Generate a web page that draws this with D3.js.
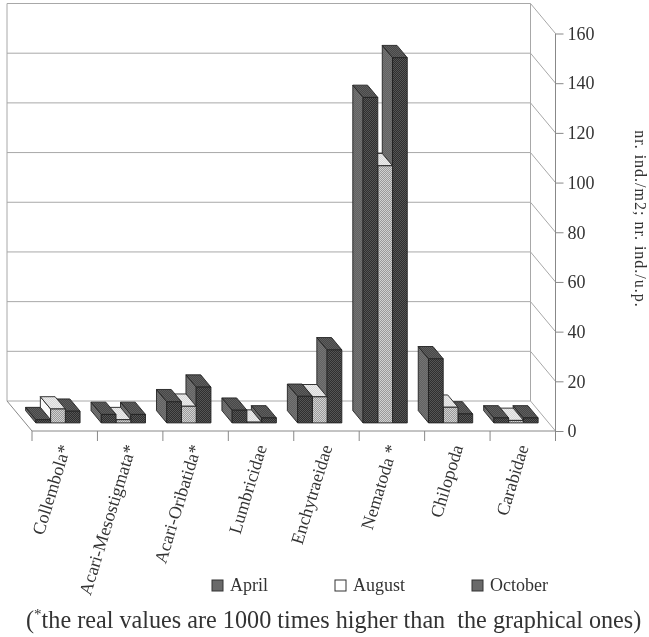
<!DOCTYPE html>
<html>
<head>
<meta charset="utf-8">
<script src="https://cdn.jsdelivr.net/npm/d3@7"></script>
<style>
  html, body { margin: 0; padding: 0; background: #fff; }
  svg { filter: blur(0.45px); }
  text { font-family: "Liberation Serif", serif; fill: #333; }
</style>
</head>
<body>
<div id="chart"></div>
<script>
// values
const categories = ["Collembola*", "Acari-Mesostigmata*", "Acari-Oribatida*", "Lumbricidae", "Enchytraeidae", "Nematoda *", "Chilopoda", "Carabidae"];
const months = ["April", "August", "October"];
const april = [1.3, 3.4, 8.5, 5.1, 10.7, 131, 25.8, 2];
const august = [5.6, 1.3, 6.7, 0.3, 10.5, 103.5, 6.3, 1];
const october = [4.7, 3.4, 14.4, 2, 29.4, 147, 3.6, 2];
const yTicks = [0, 20, 40, 60, 80, 100, 120, 140, 160];

const seriesValues = { April: april, August: august, October: october };

const width = 649, height = 637;
const depthX = -25, depthY = -30;      // floor depth, front edge to back wall
const barFront = 0.27, barBack = 0.68; // where the bars sit on the floor

const svg = d3.select("#chart").append("svg")
    .attr("width", width)
    .attr("height", height)
    .style("display", "block");

const x = d3.scaleBand().domain(categories).range([32, 555.5]);
const xInner = d3.scaleBand().domain(months).range([0, x.bandwidth()]).paddingOuter(0.72);
const y = d3.scaleLinear().domain([0, 160]).range([431, 33.5]);

// stippled fills, the print has dithered faces
const defs = svg.append("defs");
function stipple(id, a, b) {
    const p = defs.append("pattern").attr("id", id)
        .attr("width", 2).attr("height", 2)
        .attr("patternUnits", "userSpaceOnUse");
    p.append("rect").attr("width", 2).attr("height", 2).attr("fill", a);
    p.append("rect").attr("width", 1).attr("height", 1).attr("fill", b);
    p.append("rect").attr("x", 1).attr("y", 1).attr("width", 1).attr("height", 1).attr("fill", b);
}
stipple("darkFront", "#2f2f2f", "#555");
stipple("darkTop", "#484848", "#5e5e5e");
stipple("darkSide", "#626262", "#747474");
stipple("lightFront", "#9a9a9a", "#d2d2d2");
stipple("lightTop", "#d8d8d8", "#ececec");

const faces = {
    April: { front: "url(#darkFront)", top: "url(#darkTop)", side: "url(#darkSide)" },
    August: { front: "url(#lightFront)", top: "url(#lightTop)", side: "#fafafa" },
    October: { front: "url(#darkFront)", top: "url(#darkTop)", side: "url(#darkSide)" }
};

// screen point for an x, a value and a floor depth (0 front, 1 back)
const pt = (px, v, d) => [px + d * depthX, y(v) + d * depthY];
const line = d3.line();

// walls and floor
const xLeft = x.range()[0], xRight = x.range()[1];
const walls = svg.append("g").attr("fill", "none").attr("stroke", "#a8a8a8").attr("stroke-width", 1);

walls.selectAll(".grid").data(yTicks).enter().append("path")
    .attr("class", "grid")
    .attr("d", t => line([pt(xLeft, t, 1), pt(xRight, t, 1), pt(xRight, t, 0)]));

walls.append("path").attr("d", line([pt(xLeft, 0, 1), pt(xLeft, 160, 1)]));
walls.append("path").attr("d", line([pt(xRight, 0, 1), pt(xRight, 160, 1)]));
walls.append("path").attr("stroke", "#888").attr("d", line([pt(xLeft, 0, 1), pt(xLeft, 0, 0), pt(xRight, 0, 0)]));

// bars, painted right to left because the left ones are nearer
const bars = [];
categories.forEach((c, i) => {
    months.forEach(m => bars.push({ cat: c, month: m, value: seriesValues[m][i] }));
});
bars.reverse();

const barG = svg.append("g").attr("stroke", "#222").attr("stroke-width", 0.9).attr("stroke-linejoin", "round");

bars.forEach(b => {
    const x0 = x(b.cat) + xInner(b.month);
    const x1 = x0 + xInner.bandwidth();
    const f = faces[b.month];
    const g = barG.append("g");
    // left side
    g.append("path").attr("fill", f.side).attr("d", line([
        pt(x0, 0, barFront), pt(x0, 0, barBack), pt(x0, b.value, barBack), pt(x0, b.value, barFront)
    ]) + "Z");
    // top
    g.append("path").attr("fill", f.top).attr("d", line([
        pt(x0, b.value, barFront), pt(x0, b.value, barBack), pt(x1, b.value, barBack), pt(x1, b.value, barFront)
    ]) + "Z");
    // front
    g.append("path").attr("fill", f.front).attr("d", line([
        pt(x0, 0, barFront), pt(x0, b.value, barFront), pt(x1, b.value, barFront), pt(x1, 0, barFront)
    ]) + "Z");
});

// value axis on the front right edge
const yAxis = svg.append("g")
    .attr("transform", "translate(" + xRight + ",0)")
    .call(d3.axisRight(y).tickValues(yTicks).tickSize(8).tickPadding(4));
yAxis.selectAll("text").style("font-size", "18px");
yAxis.selectAll("line, path").attr("stroke", "#888");
yAxis.select(".domain").attr("d", "M0," + y(160) + "V" + (y(0) + 8));

// category axis, ticks fall on the band edges
const edgeTicks = categories.map(c => x(c)).concat([xRight]);
svg.append("g").selectAll("line").data(edgeTicks).enter().append("line")
    .attr("x1", d => d).attr("x2", d => d)
    .attr("y1", y(0)).attr("y2", y(0) + 10)
    .attr("stroke", "#888");

svg.append("g").selectAll("text").data(categories).enter().append("text")
    .attr("text-anchor", "end")
    .attr("transform", d => "translate(" + (x(d) + x.bandwidth() / 2 + 6) + ",447) rotate(-73)")
    .style("font-size", "18px")
    .text(d => d);

// axis title, kept small enough to stay inside the right edge
svg.append("text")
    .attr("text-anchor", "middle")
    .attr("transform", "translate(635,219) rotate(90)")
    .style("font-size", "16px")
    .style("letter-spacing", "1px")
    .text("nr. ind./m2; nr. ind./u.p.");

// legend
const legendX = d3.scaleOrdinal().domain(months).range([212, 335, 472]);
const legend = svg.append("g").selectAll("g").data(months).enter().append("g")
    .attr("transform", d => "translate(" + legendX(d) + ",580)");
legend.append("rect")
    .attr("width", 11).attr("height", 11)
    .attr("fill", d => d === "August" ? "#fff" : "#6a6a6a")
    .attr("stroke", "#333");
legend.append("text")
    .attr("x", 18).attr("y", 11)
    .style("font-size", "18px")
    .text(d => d);

// footnote
const note = svg.append("text")
    .attr("x", 26).attr("y", 628)
    .style("font-size", "24.2px");
note.append("tspan").text("(");
note.append("tspan").attr("dy", -9).style("font-size", "15px").text("*");
note.append("tspan").attr("dy", 9).style("white-space", "pre").text("the real values are 1000 times higher than  the graphical ones)");
</script>
</body>
</html>
